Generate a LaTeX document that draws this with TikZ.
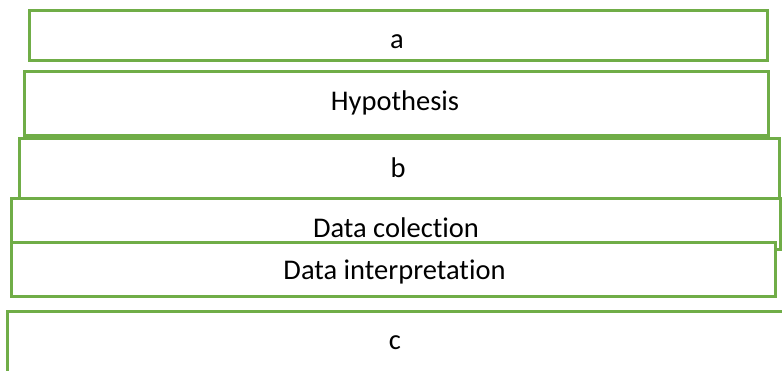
\documentclass[tikz,border=0pt]{standalone}
\usepackage{fontspec}
\setmainfont[Ligatures=NoCommon]{Carlito}
\definecolor{boxgreen}{HTML}{70AD47}
\begin{document}
\begin{tikzpicture}[x=1pt,y=-1pt,
  box/.style={draw=boxgreen,line width=3pt,fill=white,rectangle,inner sep=0pt,outer sep=0pt},
  lbl/.style={anchor=base,inner sep=0pt,font=\fontsize{28.5}{34}\selectfont}]
\useasboundingbox (0,0) rectangle (782,370);
\clip (0,0) rectangle (782,370);
\node[box,minimum width=738pt,minimum height=50pt] (b1) at (398,35) {};
\node[lbl] (t1) at (397,48) {a};
\node[box,minimum width=744pt,minimum height=64pt] (b2) at (396,103) {};
\node[lbl] (t2) at (395,110) {Hypothesis};
\node[box,minimum width=760pt,minimum height=60pt] (b3) at (399,168) {};
\node[lbl] (t3) at (398,177) {b};
\node[box,minimum width=769pt,minimum height=51pt] (b4) at (395.5,223.5) {};
\node[lbl] (t4) at (396,237) {Data colection};
\node[box,minimum width=764pt,minimum height=54pt] (b5) at (393,269) {};
\node[lbl] (t5) at (394.5,279) {Data interpretation};
\node[box,minimum width=800pt,minimum height=100pt] (b6) at (407,361) {};
\node[lbl] (t6) at (395,349) {c};
\end{tikzpicture}
\end{document}
